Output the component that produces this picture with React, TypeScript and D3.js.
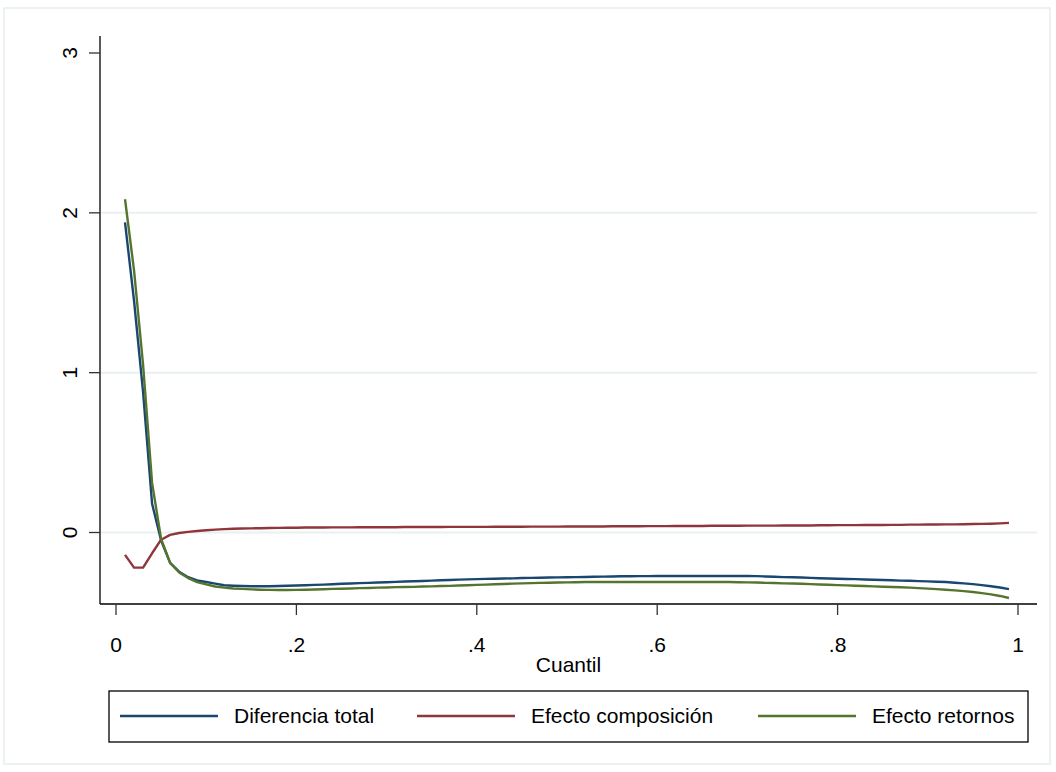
import React from "react";
import * as d3 from "d3";

// quantiles 0.01 .. 0.99
const quantiles = [
  0.01, 0.02, 0.03, 0.04, 0.05, 0.06, 0.07, 0.08, 0.09, 0.1,
  0.11, 0.12, 0.13, 0.14, 0.15, 0.16, 0.17, 0.18, 0.19, 0.2,
  0.21, 0.22, 0.23, 0.24, 0.25, 0.26, 0.27, 0.28, 0.29, 0.3,
  0.31, 0.32, 0.33, 0.34, 0.35, 0.36, 0.37, 0.38, 0.39, 0.4,
  0.41, 0.42, 0.43, 0.44, 0.45, 0.46, 0.47, 0.48, 0.49, 0.5,
  0.51, 0.52, 0.53, 0.54, 0.55, 0.56, 0.57, 0.58, 0.59, 0.6,
  0.61, 0.62, 0.63, 0.64, 0.65, 0.66, 0.67, 0.68, 0.69, 0.7,
  0.71, 0.72, 0.73, 0.74, 0.75, 0.76, 0.77, 0.78, 0.79, 0.8,
  0.81, 0.82, 0.83, 0.84, 0.85, 0.86, 0.87, 0.88, 0.89, 0.9,
  0.91, 0.92, 0.93, 0.94, 0.95, 0.96, 0.97, 0.98, 0.99,
];

const diferenciaTotal = [
  1.94, 1.45, 0.88, 0.18, -0.05, -0.19, -0.245, -0.28, -0.3, -0.31,
  -0.32, -0.33, -0.333, -0.335, -0.336, -0.336, -0.336, -0.335, -0.333, -0.332,
  -0.33, -0.328, -0.326, -0.324, -0.321, -0.319, -0.317, -0.315, -0.313, -0.311,
  -0.309, -0.307, -0.305, -0.303, -0.301, -0.299, -0.297, -0.295, -0.293, -0.292,
  -0.29, -0.289, -0.288, -0.287, -0.285, -0.284, -0.283, -0.282, -0.281, -0.28,
  -0.279, -0.278, -0.277, -0.276, -0.275, -0.274, -0.274, -0.273, -0.273, -0.272,
  -0.272, -0.272, -0.272, -0.272, -0.272, -0.272, -0.272, -0.272, -0.272, -0.272,
  -0.273, -0.275, -0.277, -0.279, -0.28, -0.282, -0.284, -0.286, -0.288, -0.289,
  -0.291, -0.292, -0.294, -0.296, -0.297, -0.299, -0.301, -0.302, -0.304, -0.306,
  -0.308, -0.31, -0.314, -0.318, -0.323, -0.329, -0.336, -0.344, -0.354,
];

const efectoComposicion = [
  -0.14, -0.22, -0.22, -0.13, -0.045, -0.015, -0.003, 0.004, 0.009, 0.014,
  0.018, 0.021, 0.023, 0.025, 0.026, 0.027, 0.028, 0.029, 0.03, 0.03,
  0.031, 0.031, 0.031, 0.032, 0.032, 0.032, 0.033, 0.033, 0.033, 0.033,
  0.033, 0.034, 0.034, 0.034, 0.034, 0.034, 0.035, 0.035, 0.035, 0.035,
  0.035, 0.036, 0.036, 0.036, 0.036, 0.037, 0.037, 0.037, 0.037, 0.038,
  0.038, 0.038, 0.038, 0.038, 0.039, 0.039, 0.039, 0.039, 0.04, 0.04,
  0.04, 0.041, 0.041, 0.041, 0.041, 0.042, 0.042, 0.042, 0.042, 0.043,
  0.043, 0.043, 0.043, 0.044, 0.044, 0.044, 0.044, 0.045, 0.045, 0.046,
  0.046, 0.046, 0.047, 0.047, 0.047, 0.048, 0.048, 0.049, 0.049, 0.05,
  0.05, 0.051, 0.051, 0.052, 0.053, 0.054, 0.055, 0.057, 0.06,
];

const efectoRetornos = [
  2.085, 1.64, 1.05, 0.31, -0.04, -0.19, -0.25, -0.285, -0.31, -0.325,
  -0.338, -0.345, -0.35, -0.353, -0.356, -0.358, -0.359, -0.36, -0.36, -0.359,
  -0.358, -0.357, -0.355, -0.353, -0.352, -0.35, -0.348, -0.347, -0.345, -0.344,
  -0.342, -0.341, -0.34, -0.338, -0.337, -0.335, -0.334, -0.332, -0.33, -0.328,
  -0.326, -0.324, -0.322, -0.32, -0.318, -0.317, -0.315, -0.314, -0.313, -0.312,
  -0.311, -0.31, -0.31, -0.31, -0.31, -0.31, -0.31, -0.31, -0.31, -0.31,
  -0.31, -0.31, -0.31, -0.31, -0.31, -0.31, -0.31, -0.31, -0.311, -0.312,
  -0.313, -0.315, -0.316, -0.318, -0.319, -0.321, -0.323, -0.325, -0.327, -0.329,
  -0.331, -0.333, -0.335, -0.337, -0.339, -0.341, -0.343, -0.345, -0.348, -0.351,
  -0.354, -0.358, -0.362, -0.367, -0.372, -0.379, -0.387, -0.397, -0.41,
];

const seriesNames = ["Diferencia total", "Efecto composición", "Efecto retornos"];
const seriesColors = ["#1a476f", "#90353b", "#55752f"];
const xTicks = [0, 0.2, 0.4, 0.6, 0.8, 1];
const xTickLabels = ["0", ".2", ".4", ".6", ".8", "1"];
const yTicks = [0, 1, 2, 3];
const yGrid = [0, 1, 2];

const W = 1056;
const H = 772;
const plot = { left: 100, right: 1037, top: 36, bottom: 604 };
const font = "'Liberation Sans', Arial, sans-serif";
const fs = 21;

export default function App() {
  const x = d3.scaleLinear().domain([0, 1]).range([116, 1018]);
  const y = d3.scaleLinear().domain([0, 3]).range([532.5, 53]);

  const allSeries = [diferenciaTotal, efectoComposicion, efectoRetornos];
  const line = d3
    .line<number>()
    .x((_, i) => x(quantiles[i]))
    .y((d) => y(d));

  const legendX = [120, 417, 758];

  return (
    <div style={{ position: "absolute", left: 0, top: 0 }}>
      <svg width={W} height={H} style={{ display: "block", background: "#fff" }}>
        <rect x={4} y={8} width={1046} height={756} fill="#fff" stroke="#e6eef0" strokeWidth={1.5} />

        {yGrid.map((v) => (
          <line key={v} x1={plot.left} x2={plot.right} y1={y(v)} y2={y(v)} stroke="#e8f0f2" strokeWidth={2} />
        ))}

        {allSeries.map((s, k) => (
          <path key={k} d={line(s) || ""} fill="none" stroke={seriesColors[k]} strokeWidth={2.4} strokeLinejoin="round" />
        ))}

        {/* y axis */}
        <line x1={plot.left} x2={plot.left} y1={plot.top} y2={plot.bottom} stroke="#000" strokeWidth={1.3} />
        {yTicks.map((v) => (
          <g key={v}>
            <line x1={plot.left - 11} x2={plot.left} y1={y(v)} y2={y(v)} stroke="#333" strokeWidth={1.3} />
            <text
              transform={`translate(77,${y(v)}) rotate(-90)`}
              textAnchor="middle"
              fontFamily={font}
              fontSize={fs}
              fill="#000"
            >
              {v}
            </text>
          </g>
        ))}

        {/* x axis */}
        <line x1={plot.left} x2={plot.right} y1={plot.bottom} y2={plot.bottom} stroke="#000" strokeWidth={1.3} />
        {xTicks.map((v, i) => (
          <g key={v}>
            <line x1={x(v)} x2={x(v)} y1={plot.bottom} y2={plot.bottom + 11} stroke="#333" strokeWidth={1.3} />
            <text x={x(v)} y={652} textAnchor="middle" fontFamily={font} fontSize={fs} fill="#000">
              {xTickLabels[i]}
            </text>
          </g>
        ))}
        <text x={(plot.left + plot.right) / 2} y={672} textAnchor="middle" fontFamily={font} fontSize={fs} fill="#000">
          Cuantil
        </text>

        {/* legend */}
        <rect x={109} y={691} width={919} height={51} fill="#fff" stroke="#000" strokeWidth={1.3} />
        {seriesNames.map((name, k) => (
          <g key={name}>
            <line x1={legendX[k]} x2={legendX[k] + 98} y1={716} y2={716} stroke={seriesColors[k]} strokeWidth={2.4} />
            <text x={legendX[k] + 114} y={723} fontFamily={font} fontSize={fs} fill="#000">
              {name}
            </text>
          </g>
        ))}
      </svg>
    </div>
  );
}
